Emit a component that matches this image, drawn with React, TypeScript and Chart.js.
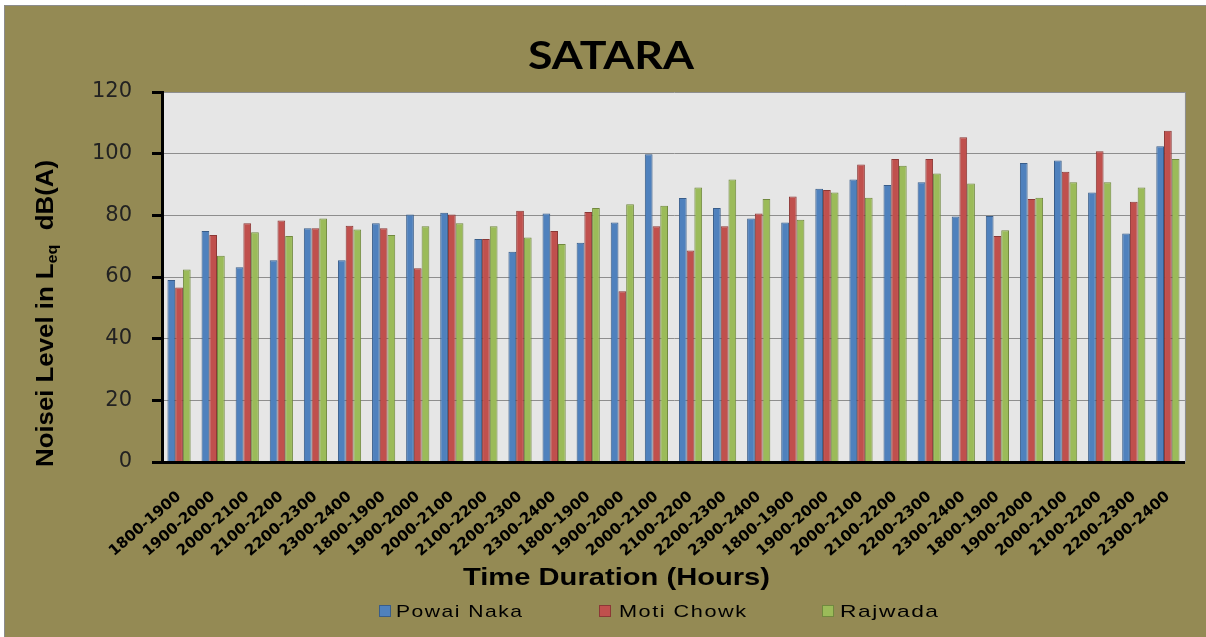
import React, { useEffect, useRef } from "react";
import { Chart, registerables } from "chart.js";

Chart.register(...registerables);

// ---------- data ----------
const categories = [
  "1800-1900", "1900-2000", "2000-2100", "2100-2200", "2200-2300", "2300-2400",
  "1800-1900", "1900-2000", "2000-2100", "2100-2200", "2200-2300", "2300-2400",
  "1800-1900", "1900-2000", "2000-2100", "2100-2200", "2200-2300", "2300-2400",
  "1800-1900", "1900-2000", "2000-2100", "2100-2200", "2200-2300", "2300-2400",
  "1800-1900", "1900-2000", "2000-2100", "2100-2200", "2200-2300", "2300-2400",
];

const powaiNaka = [
  59.0, 74.9, 63.2, 65.4, 75.8, 65.4, 77.4, 80.3, 80.8, 72.3,
  68.2, 80.6, 71.1, 77.7, 99.8, 85.6, 82.4, 79.0, 77.7, 88.6,
  91.6, 89.8, 90.7, 79.6, 79.8, 97.0, 97.8, 87.4, 74.1, 102.4,
];
const motiChowk = [
  56.6, 73.6, 77.4, 78.3, 75.8, 76.6, 75.8, 62.8, 80.3, 72.3,
  81.5, 74.9, 81.1, 55.4, 76.5, 68.6, 76.5, 80.6, 86.1, 88.2,
  96.5, 98.3, 98.3, 105.3, 73.3, 85.3, 94.1, 100.8, 84.4, 107.4,
];
const rajwada = [
  62.4, 66.9, 74.5, 73.3, 79.0, 75.4, 73.6, 76.5, 77.4, 76.5,
  72.8, 70.7, 82.4, 83.6, 83.1, 89.0, 91.6, 85.3, 78.6, 87.4,
  85.7, 96.1, 93.6, 90.3, 75.2, 85.7, 90.7, 90.7, 89.0, 98.3,
];

const seriesNames = ["Powai Naka", "Moti Chowk", "Rajwada"];
const yMin = 0;
const yMax = 120;
const yStep = 20;

const chartTitle = "SATARA";
const xAxisTitle = "Time Duration (Hours)";
const yAxisTitleMain = "Noisei Level in L";
const yAxisTitleSub = "eq";
const yAxisTitleTail = "  dB(A)";

// ---------- styles ----------
const OLIVE = "#948A54";
const PLOT_BG = "#E6E6E6";
const GRID = "#8E8E8E";
const fills = ["#4F81BD", "#C0504D", "#9BBB59"];
const borders = ["#385D8A", "#8C3836", "#71893F"];

const legendSquareX = [375, 595, 818];
const legendTextX = [392, 615, 836];
const legendTextW = [126, 127, 98];

function fillStretched(
  ctx: CanvasRenderingContext2D,
  text: string,
  x: number,
  y: number,
  targetW: number,
  align: "left" | "center",
  spacing = 0
) {
  ctx.save();
  (ctx as any).letterSpacing = spacing + "px";
  const w = ctx.measureText(text).width - spacing;
  const sx = targetW / w;
  const left = align === "center" ? x - targetW / 2 : x;
  ctx.translate(left, y);
  ctx.scale(sx, 1);
  ctx.textAlign = "left";
  ctx.textBaseline = "alphabetic";
  ctx.fillText(text, 0, 0);
  ctx.restore();
}

const backgroundPlugin = {
  id: "bgPlot",
  beforeDraw(chart: any) {
    const { ctx, chartArea: ca, width, height } = chart;
    ctx.save();
    ctx.fillStyle = OLIVE;
    ctx.fillRect(0, 0, width, height);
    ctx.strokeStyle = "#8C8C8C";
    ctx.lineWidth = 1;
    ctx.beginPath();
    ctx.moveTo(0.5, height);
    ctx.lineTo(0.5, 0.5);
    ctx.lineTo(width, 0.5);
    ctx.stroke();
    ctx.fillStyle = PLOT_BG;
    ctx.fillRect(ca.left, ca.top, ca.right - ca.left, ca.bottom - ca.top);
    ctx.strokeStyle = GRID;
    ctx.beginPath();
    ctx.moveTo(Math.round(ca.right) + 0.5, ca.top);
    ctx.lineTo(Math.round(ca.right) + 0.5, ca.bottom);
    ctx.stroke();
    ctx.restore();
  },
};

const textPlugin = {
  id: "texts",
  afterDraw(chart: any) {
    const { ctx } = chart;
    ctx.save();
    ctx.fillStyle = "#000";

    // Title
    ctx.font = '700 38px "Lato"';
    fillStretched(ctx, chartTitle, 607, 64, 166, "center");

    // X axis title
    ctx.font = '700 24px "Liberation Sans"';
    fillStretched(ctx, xAxisTitle, 612.5, 580, 307, "center");

    // Y axis title (rotated, with subscript)
    const mainFont = '700 24px "Liberation Sans"';
    const subFont = '700 15px "Liberation Sans"';
    ctx.font = mainFont;
    const w1 = ctx.measureText(yAxisTitleMain).width;
    const w3 = ctx.measureText(yAxisTitleTail).width;
    ctx.font = subFont;
    const w2 = ctx.measureText(yAxisTitleSub).width;
    const total = w1 + w2 + w3;
    const sx = 307 / total;
    ctx.save();
    ctx.translate(49, 462);
    ctx.rotate(-Math.PI / 2);
    ctx.scale(sx, 1);
    ctx.textAlign = "left";
    ctx.textBaseline = "alphabetic";
    ctx.font = mainFont;
    ctx.fillText(yAxisTitleMain, 0, 0);
    ctx.font = subFont;
    ctx.fillText(yAxisTitleSub, w1, 4);
    ctx.font = mainFont;
    ctx.fillText(yAxisTitleTail, w1 + w2, 0);
    ctx.restore();

    // Legend
    ctx.font = '17px "Liberation Sans"';
    chart.data.datasets.forEach((ds: any, i: number) => {
      ctx.fillStyle = ds.backgroundColor;
      ctx.fillRect(legendSquareX[i], 600, 12, 12);
      ctx.strokeStyle = ds.borderColor;
      ctx.lineWidth = 1;
      ctx.strokeRect(legendSquareX[i] + 0.5, 600.5, 11, 11);
      ctx.fillStyle = "#000";
      fillStretched(ctx, ds.label, legendTextX[i], 612, legendTextW[i], "left", 1.2);
    });
    ctx.restore();
  },
};

export default function App() {
  const canvasRef = useRef<HTMLCanvasElement | null>(null);

  useEffect(() => {
    if (!canvasRef.current) return;
    const seriesData = [powaiNaka, motiChowk, rajwada];
    const chart = new Chart(canvasRef.current, {
      type: "bar",
      data: {
        labels: categories,
        datasets: seriesData.map((d, i) => ({
          label: seriesNames[i],
          data: d,
          backgroundColor: fills[i],
          borderColor: borders[i],
          borderWidth: 1,
          categoryPercentage: 0.68,
          barPercentage: 1.0,
        })),
      },
      options: {
        responsive: false,
        animation: false,
        devicePixelRatio: 1,
        layout: { padding: { left: 0, top: 87, right: 18, bottom: 0 } },
        plugins: {
          legend: { display: false },
          title: { display: false },
          tooltip: { enabled: false },
        },
        scales: {
          x: {
            grid: { display: false, drawTicks: false, tickLength: 0 },
            border: { display: true, color: "#000", width: 3, z: 1 },
            ticks: {
              autoSkip: false,
              minRotation: 41,
              maxRotation: 41,
              padding: 26,
              color: "#000",
              font: { family: "DejaVu Sans", weight: "bold", size: 15 },
            },
            afterFit: (s: any) => {
              s.height = 175;
            },
          },
          y: {
            min: yMin,
            max: yMax,
            ticks: {
              stepSize: yStep,
              padding: 20,
              color: "#222",
              font: { family: "DejaVu Sans", size: 21 },
            },
            grid: {
              color: (c: any) => (c.tick && c.tick.value === 0 ? "rgba(0,0,0,0)" : GRID),
              lineWidth: 1,
              drawTicks: true,
              tickLength: 10,
              tickColor: "#000",
              tickWidth: 3,
            },
            border: { display: true, color: "#000", width: 3, z: 1 },
            afterFit: (s: any) => {
              s.width = 158;
            },
          },
        },
      } as any,
      plugins: [backgroundPlugin, textPlugin],
    });
    return () => chart.destroy();
  }, []);

  return (
    <div
      style={{
        position: "absolute",
        left: 0,
        top: 0,
        width: 1206,
        height: 637,
        background: "#fff",
        overflow: "hidden",
      }}
    >
      <canvas
        ref={canvasRef}
        width={1202}
        height={632}
        style={{ position: "absolute", left: 4, top: 5, display: "block" }}
      />
    </div>
  );
}
